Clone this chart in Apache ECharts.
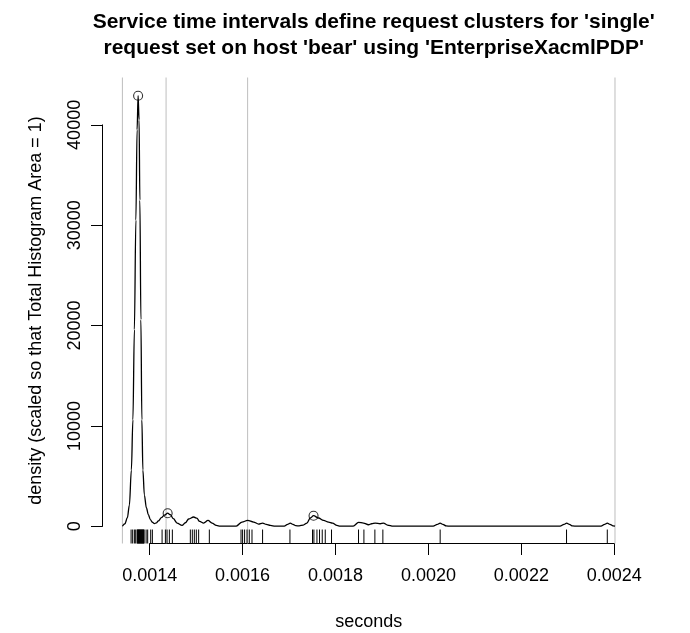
<!DOCTYPE html>
<html>
<head>
<meta charset="utf-8">
<script src="https://cdn.jsdelivr.net/npm/echarts@6/dist/echarts.min.js"></script>
<style>
  html, body { margin: 0; padding: 0; background: #fff; }
  #chart { width: 690px; height: 633px; }
</style>
</head>
<body>
<div id="chart"></div>
<script>
// density curve (seconds, density)
const densityX = [
  0.0013413, 0.0013467, 0.0013520, 0.0013563, 0.0013606, 0.0013639, 0.0013671, 0.0013703,
  0.0013729, 0.0013751, 0.0013772, 0.0013789, 0.0013811, 0.0013832, 0.0013854, 0.0013886,
  0.0013929, 0.0013972, 0.0014015, 0.0014058, 0.0014101, 0.0014144, 0.0014187, 0.0014252,
  0.0014316, 0.0014387, 0.0014445, 0.0014510, 0.0014589, 0.0014697, 0.0014768, 0.0014839,
  0.0014946, 0.0015015, 0.0015075, 0.0015161, 0.0015256, 0.0015342, 0.0015434, 0.0015520,
  0.0015864, 0.0015987, 0.0016108, 0.0016237, 0.0016344, 0.0016430, 0.0016510, 0.0016596,
  0.0016703, 0.0016897, 0.0016968, 0.0017026, 0.0017084, 0.0017144, 0.0017219, 0.0017305,
  0.0017385, 0.0017456, 0.0017527, 0.0017634, 0.0017742, 0.0017849, 0.0017935, 0.0018030,
  0.0018101, 0.0018381, 0.0018495, 0.0018602, 0.0018710, 0.0018778, 0.0018854, 0.0018961,
  0.0019032, 0.0019118, 0.0019241, 0.0020101, 0.0020193, 0.0020251, 0.0020310, 0.0020381,
  0.0020467, 0.0022832, 0.0022918, 0.0022976, 0.0023034, 0.0023101, 0.0023198, 0.0023714,
  0.0023791, 0.0023849, 0.0023907, 0.0023972, 0.0024015
];
const densityY = [
  0, 250, 850, 2100, 5600, 10600, 19600, 30500,
  39500, 42900, 40500, 32500, 20600, 10600, 5600, 3100,
  1850, 1150, 650, 400, 260, 330, 530, 850,
  1100, 1300, 1150, 750, 320, 80, 350, 720,
  920, 800, 480, 320, 580, 320, 80, 15,
  15, 420, 580, 420, 220, 320, 180, 80,
  10, 10, 190, 320, 190, 60, 30, 120,
  320, 820, 1050, 820, 580, 420, 320, 80,
  15, 15, 380, 320, 150, 250, 320, 250,
  320, 120, 10, 10, 190, 320, 190, 30,
  5, 5, 190, 320, 190, 30, 5, 5,
  190, 320, 190, 40, 10
];

// cluster peaks (circles)
const peakX = [0.0013751, 0.0014387, 0.0017527];
const peakY = [42900, 1300, 1050];

// cluster boundaries (grey vertical lines)
const boundaryX = [0.0013413, 0.0014353, 0.0016108, 0.0024015];

// individual observations (rug)
const rugX = [
  0.0013600, 0.0013634, 0.0013671, 0.0013699, 0.0013730, 0.0013740, 0.0013750, 0.0013760,
  0.0013770, 0.0013780, 0.0013790, 0.0013800, 0.0013810, 0.0013820, 0.0013830, 0.0013840,
  0.0013850, 0.0013860, 0.0013870, 0.0013880, 0.0013923, 0.0013957, 0.0014022, 0.0014058,
  0.0014267, 0.0014338, 0.0014374, 0.0014424, 0.0014488, 0.0014875, 0.0014918, 0.0014961,
  0.0015004, 0.0015054, 0.0015284, 0.0015966, 0.0016000, 0.0016043, 0.0016095, 0.0016144,
  0.0016202, 0.0016430, 0.0017019, 0.0017505, 0.0017535, 0.0017600, 0.0017656, 0.0017714,
  0.0017779, 0.0017914, 0.0018495, 0.0018611, 0.0018847, 0.0019019, 0.0020252, 0.0022972,
  0.0023849
];

const titleText = "Service time intervals define request clusters for 'single'\nrequest set on host 'bear' using 'EnterpriseXacmlPDP'";
const xName = 'seconds';
const yName = 'density (scaled so that Total Histogram Area = 1)';

// R-style plot region (data range padded by 4%)
const xMin = 0.0012989, xMax = 0.0024439;
const yMin = -1720, yMax = 44720;
const xTickMin = 0.0014, xTickMax = 0.0024, xTickStep = 0.0002;
const yTickMin = 0, yTickMax = 40000, yTickStep = 10000;

const FONT = 'Liberation Sans, Arial, Helvetica, sans-serif';
const plot = { left: 102.7, top: 77.5, width: 532, height: 466 };
const px = v => plot.left + (v - xMin) / (xMax - xMin) * plot.width;
const py = v => plot.top + (yMax - v) / (yMax - yMin) * plot.height;

const chart = echarts.init(document.getElementById('chart'), null, { renderer: 'canvas' });

const gridBase = { outerBoundsMode: 'none', containLabel: false };

const option = {
  backgroundColor: '#fff',
  animation: false,
  title: {
    text: titleText,
    left: plot.left + plot.width / 2,
    top: 4,
    textAlign: 'center',
    textStyle: { fontFamily: FONT, fontSize: 21, fontWeight: 'bold', color: '#000', lineHeight: 26 }
  },
  grid: [
    // main plot region
    Object.assign({ left: plot.left, top: plot.top, width: plot.width, height: plot.height }, gridBase),
    // x axis drawn only over its tick range
    Object.assign({ left: px(xTickMin), top: plot.top, width: px(xTickMax) - px(xTickMin), height: plot.height }, gridBase),
    // y axis drawn only over its tick range
    Object.assign({ left: plot.left, top: py(yTickMax), width: plot.width, height: py(yTickMin) - py(yTickMax) }, gridBase)
  ],
  xAxis: [
    {
      gridIndex: 0, type: 'value', min: xMin, max: xMax,
      axisLine: { show: false }, axisTick: { show: false }, axisLabel: { show: false }, splitLine: { show: false },
      name: xName, nameLocation: 'middle', nameGap: 70,
      nameTextStyle: { fontFamily: FONT, fontSize: 18, color: '#000' }
    },
    {
      gridIndex: 1, type: 'value', min: xTickMin, max: xTickMax, interval: xTickStep,
      position: 'bottom',
      axisLine: { onZero: false, lineStyle: { color: '#000', width: 1 } },
      axisTick: { length: 11.5, lineStyle: { color: '#000', width: 1 } },
      axisLabel: {
        margin: 24, color: '#000', fontFamily: FONT, fontSize: 18,
        formatter: v => v.toFixed(4), showMinLabel: true, showMaxLabel: true
      },
      splitLine: { show: false }
    },
    { gridIndex: 2, type: 'value', min: xMin, max: xMax, show: false }
  ],
  yAxis: [
    {
      gridIndex: 0, type: 'value', min: yMin, max: yMax,
      axisLine: { show: false }, axisTick: { show: false }, axisLabel: { show: false }, splitLine: { show: false },
      name: yName, nameLocation: 'middle', nameGap: 58,
      nameTextStyle: { fontFamily: FONT, fontSize: 18, color: '#000' }
    },
    { gridIndex: 1, type: 'value', min: yMin, max: yMax, show: false },
    {
      gridIndex: 2, type: 'value', min: yTickMin, max: yTickMax, interval: yTickStep,
      position: 'left',
      axisLine: { show: true, onZero: false, lineStyle: { color: '#000', width: 1 } },
      axisTick: { show: true, length: 11.7, lineStyle: { color: '#000', width: 1 } },
      axisLabel: { margin: 19, rotate: 90, color: '#000', fontFamily: FONT, fontSize: 18, formatter: v => String(v) },
      splitLine: { show: false }
    }
  ],
  series: [
    {
      // cluster boundaries, full plot height
      type: 'custom',
      xAxisIndex: 0, yAxisIndex: 0,
      data: boundaryX.map(x => [x]),
      silent: true,
      z: 1,
      renderItem: (params, api) => {
        const p0 = api.coord([api.value(0), yMin]);
        const p1 = api.coord([api.value(0), yMax]);
        return {
          type: 'line',
          shape: { x1: p0[0], y1: p0[1], x2: p1[0], y2: p1[1] },
          style: { stroke: '#bebebe', lineWidth: 1 }
        };
      }
    },
    {
      type: 'line',
      xAxisIndex: 0, yAxisIndex: 0,
      data: densityX.map((x, i) => [x, densityY[i]]),
      showSymbol: false,
      smooth: 0.35,
      smoothMonotone: 'x',
      lineStyle: { color: '#000', width: 1.3 },
      silent: true,
      z: 3
    },
    {
      type: 'scatter',
      xAxisIndex: 0, yAxisIndex: 0,
      data: peakX.map((x, i) => [x, peakY[i]]),
      symbol: 'circle',
      symbolSize: 9,
      itemStyle: { color: 'rgba(0,0,0,0)', borderColor: '#000', borderWidth: 1.1 },
      silent: true,
      z: 4
    },
    {
      // rug of observations
      type: 'custom',
      xAxisIndex: 0, yAxisIndex: 0,
      data: rugX.map(x => [x]),
      silent: true,
      z: 2,
      renderItem: (params, api) => {
        const p = api.coord([api.value(0), yMin]);
        const len = 0.03 * params.coordSys.height;
        return {
          type: 'line',
          shape: { x1: p[0], y1: p[1], x2: p[0], y2: p[1] - len },
          style: { stroke: '#000', lineWidth: 1 }
        };
      }
    }
  ]
};

chart.setOption(option);
</script>
</body>
</html>
